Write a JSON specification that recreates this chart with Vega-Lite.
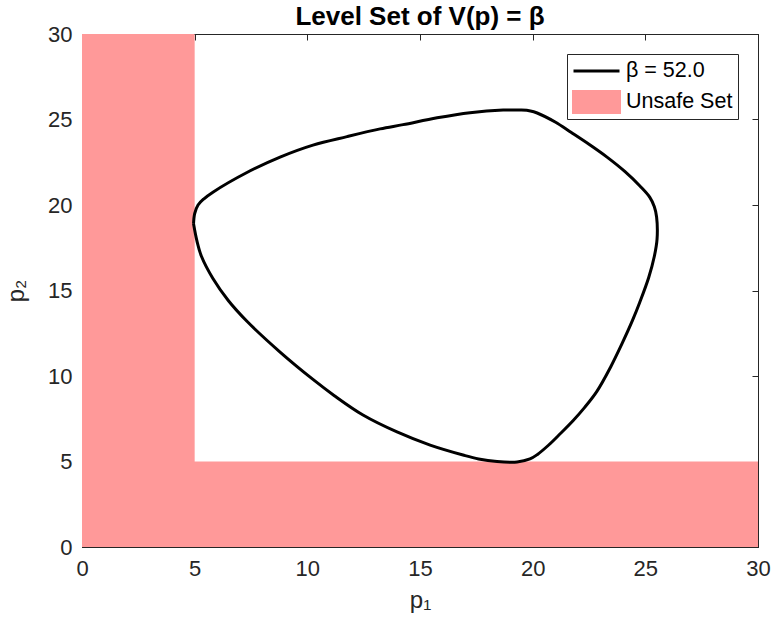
{
  "$schema": "https://vega.github.io/schema/vega-lite/v6.json",
  "width": 676,
  "height": 513,
  "autosize": {"type": "none"},
  "padding": {"left": 82, "top": 34, "right": 15, "bottom": 88},
  "background": "white",
  "config": {
    "font": "Liberation Sans",
    "view": {"stroke": "#262626", "strokeWidth": 1},
    "axis": {
      "grid": false,
      "domainColor": "#262626",
      "tickColor": "#262626",
      "tickSize": -6,
      "labelColor": "#262626",
      "labelFontSize": 22,
      "labelFont": "Liberation Sans",
      "titleFont": "Liberation Sans",
      "titleFontSize": 24,
      "titleFontWeight": "normal",
      "titleColor": "#262626"
    }
  },
  "title": {
    "text": "Level Set of V(p) = β",
    "fontSize": 26,
    "fontWeight": "bold",
    "font": "Liberation Sans",
    "color": "black",
    "offset": 6,
    "dy": 13,
    "anchor": "middle"
  },
  "datasets": {
    "unsafe": [
      {"x0": 0, "x1": 5, "y0": 0, "y1": 30, "set": "Unsafe Set"},
      {"x0": 0, "x1": 30, "y0": 0, "y1": 5, "set": "Unsafe Set"}
    ],
    "curve": [
      {"i": 0, "p1": 4.95, "p2": 18.9, "set": "β = 52.0"},
      {"i": 1, "p1": 5.0, "p2": 19.5, "set": "β = 52.0"},
      {"i": 2, "p1": 5.15, "p2": 20.0, "set": "β = 52.0"},
      {"i": 3, "p1": 5.4, "p2": 20.35, "set": "β = 52.0"},
      {"i": 4, "p1": 5.81, "p2": 20.75, "set": "β = 52.0"},
      {"i": 5, "p1": 7.32, "p2": 21.9, "set": "β = 52.0"},
      {"i": 6, "p1": 8.79, "p2": 22.8, "set": "β = 52.0"},
      {"i": 7, "p1": 10.25, "p2": 23.5, "set": "β = 52.0"},
      {"i": 8, "p1": 11.76, "p2": 24.0, "set": "β = 52.0"},
      {"i": 9, "p1": 13.23, "p2": 24.45, "set": "β = 52.0"},
      {"i": 10, "p1": 14.25, "p2": 24.7, "set": "β = 52.0"},
      {"i": 11, "p1": 15.76, "p2": 25.1, "set": "β = 52.0"},
      {"i": 12, "p1": 17.22, "p2": 25.4, "set": "β = 52.0"},
      {"i": 13, "p1": 18.69, "p2": 25.55, "set": "β = 52.0"},
      {"i": 14, "p1": 19.5, "p2": 25.55, "set": "β = 52.0"},
      {"i": 15, "p1": 19.9, "p2": 25.5, "set": "β = 52.0"},
      {"i": 16, "p1": 20.2, "p2": 25.38, "set": "β = 52.0"},
      {"i": 17, "p1": 21.0, "p2": 24.85, "set": "β = 52.0"},
      {"i": 18, "p1": 21.7, "p2": 24.25, "set": "β = 52.0"},
      {"i": 19, "p1": 22.5, "p2": 23.55, "set": "β = 52.0"},
      {"i": 20, "p1": 23.3, "p2": 22.8, "set": "β = 52.0"},
      {"i": 21, "p1": 24.1, "p2": 21.95, "set": "β = 52.0"},
      {"i": 22, "p1": 24.77, "p2": 21.1, "set": "β = 52.0"},
      {"i": 23, "p1": 25.2, "p2": 20.45, "set": "β = 52.0"},
      {"i": 24, "p1": 25.4, "p2": 19.9, "set": "β = 52.0"},
      {"i": 25, "p1": 25.5, "p2": 19.3, "set": "β = 52.0"},
      {"i": 26, "p1": 25.52, "p2": 18.0, "set": "β = 52.0"},
      {"i": 27, "p1": 25.4, "p2": 17.0, "set": "β = 52.0"},
      {"i": 28, "p1": 25.15, "p2": 15.76, "set": "β = 52.0"},
      {"i": 29, "p1": 24.75, "p2": 14.3, "set": "β = 52.0"},
      {"i": 30, "p1": 24.43, "p2": 13.25, "set": "β = 52.0"},
      {"i": 31, "p1": 23.95, "p2": 11.85, "set": "β = 52.0"},
      {"i": 32, "p1": 23.45, "p2": 10.5, "set": "β = 52.0"},
      {"i": 33, "p1": 22.85, "p2": 9.1, "set": "β = 52.0"},
      {"i": 34, "p1": 22.3, "p2": 8.15, "set": "β = 52.0"},
      {"i": 35, "p1": 21.8, "p2": 7.4, "set": "β = 52.0"},
      {"i": 36, "p1": 21.22, "p2": 6.62, "set": "β = 52.0"},
      {"i": 37, "p1": 20.7, "p2": 5.95, "set": "β = 52.0"},
      {"i": 38, "p1": 20.2, "p2": 5.4, "set": "β = 52.0"},
      {"i": 39, "p1": 19.88, "p2": 5.15, "set": "β = 52.0"},
      {"i": 40, "p1": 19.31, "p2": 4.97, "set": "β = 52.0"},
      {"i": 41, "p1": 18.42, "p2": 5.0, "set": "β = 52.0"},
      {"i": 42, "p1": 17.6, "p2": 5.15, "set": "β = 52.0"},
      {"i": 43, "p1": 16.91, "p2": 5.38, "set": "β = 52.0"},
      {"i": 44, "p1": 15.45, "p2": 5.96, "set": "β = 52.0"},
      {"i": 45, "p1": 13.98, "p2": 6.73, "set": "β = 52.0"},
      {"i": 46, "p1": 12.47, "p2": 7.72, "set": "β = 52.0"},
      {"i": 47, "p1": 11.2, "p2": 8.85, "set": "β = 52.0"},
      {"i": 48, "p1": 10.25, "p2": 9.8, "set": "β = 52.0"},
      {"i": 49, "p1": 8.79, "p2": 11.4, "set": "β = 52.0"},
      {"i": 50, "p1": 7.32, "p2": 13.2, "set": "β = 52.0"},
      {"i": 51, "p1": 6.5, "p2": 14.4, "set": "β = 52.0"},
      {"i": 52, "p1": 5.81, "p2": 15.7, "set": "β = 52.0"},
      {"i": 53, "p1": 5.3, "p2": 17.0, "set": "β = 52.0"},
      {"i": 54, "p1": 5.1, "p2": 17.9, "set": "β = 52.0"},
      {"i": 55, "p1": 4.95, "p2": 18.9, "set": "β = 52.0"}
    ]
  },
  "layer": [
    {
      "data": {"name": "unsafe"},
      "mark": {"type": "rect", "strokeWidth": 0},
      "encoding": {
        "x": {
          "field": "x0", "type": "quantitative",
          "scale": {"domain": [0, 30], "nice": false, "zero": false},
          "axis": {"orient": "bottom", "values": [0, 5, 10, 15, 20, 25, 30], "title": "p₁", "labelPadding": 17, "titlePadding": 9, "labelFlush": false}
        },
        "x2": {"field": "x1"},
        "y": {
          "field": "y0", "type": "quantitative",
          "scale": {"domain": [0, 30], "nice": false, "zero": false},
          "axis": {"orient": "left", "values": [0, 5, 10, 15, 20, 25, 30], "title": "p₂", "labelPadding": 16, "titlePadding": 19, "labelFlush": false}
        },
        "y2": {"field": "y1"},
        "color": {
          "field": "set", "type": "nominal",
          "scale": {"domain": ["β = 52.0", "Unsafe Set"], "range": ["black", "#ff9999"]},
          "legend": {
            "orient": "none",
            "legendX": 485,
            "legendY": 20,
            "title": null,
            "strokeColor": "#262626",
            "fillColor": "white",
            "padding": 5,
            "labelFontSize": 21.5,
            "labelFont": "Liberation Sans",
            "labelColor": "black",
            "symbolSize": 400,
            "symbolType": "M-1,-1.05H3.6V1.05H-1Z",
            "clipHeight": 24,
            "rowPadding": 7,
            "labelOffset": 31,
            "encode": {
              "symbols": {
                "update": {
                  "shape": {"signal": "datum.value === 'Unsafe Set' ? 'M-1,-1.05H3.6V1.05H-1Z' : 'M-1,0H3.6'"},
                  "stroke": {"signal": "datum.value === 'Unsafe Set' ? 'transparent' : 'black'"},
                  "strokeWidth": {"value": 3},
                  "fill": {"signal": "datum.value === 'Unsafe Set' ? '#ff9999' : 'transparent'"},
                  "opacity": {"value": 1}
                }
              }
            }
          }
        }
      }
    },
    {
      "data": {"name": "curve"},
      "mark": {"type": "line", "strokeWidth": 3, "interpolate": "catmull-rom"},
      "encoding": {
        "x": {"field": "p1", "type": "quantitative", "axis": {"orient": "top", "values": [0, 5, 10, 15, 20, 25, 30], "labels": false, "title": null}},
        "y": {"field": "p2", "type": "quantitative", "axis": {"orient": "right", "values": [0, 5, 10, 15, 20, 25, 30], "labels": false, "title": null}},
        "order": {"field": "i", "type": "quantitative"},
        "color": {"field": "set", "type": "nominal"}
      }
    }
  ],
  "resolve": {"axis": {"x": "independent", "y": "independent"}}
}
